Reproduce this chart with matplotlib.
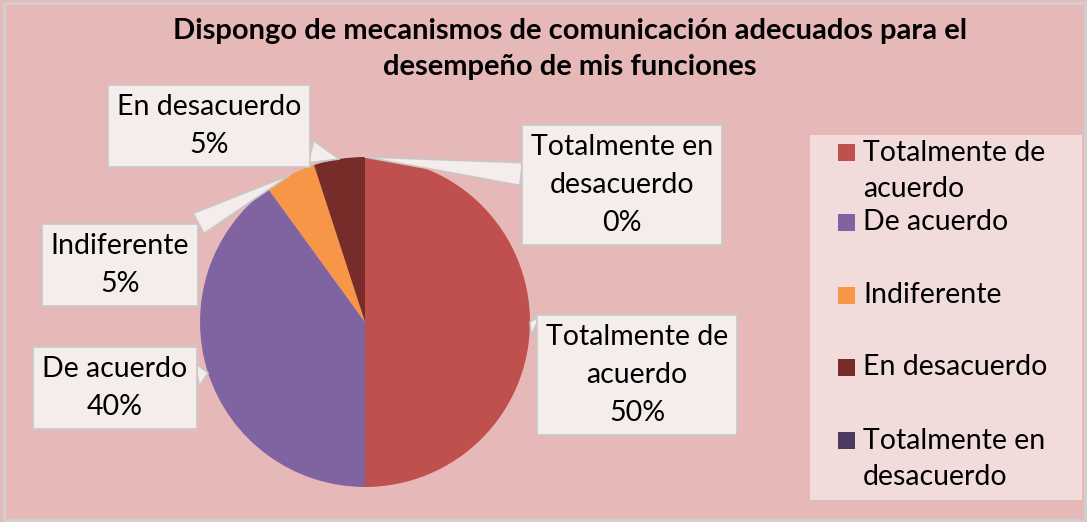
import matplotlib
matplotlib.use('Agg')
import matplotlib.pyplot as plt
import numpy as np
from matplotlib.patches import Rectangle

plt.rcParams['font.family'] = ['Lato', 'DejaVu Sans']

# datos de la encuesta
categorias = ['Totalmente de acuerdo', 'De acuerdo', 'Indiferente',
              'En desacuerdo', 'Totalmente en desacuerdo']
porcentajes = [50, 40, 5, 5, 0]
etiquetas = ['Totalmente de\nacuerdo\n50%', 'De acuerdo\n40%', 'Indiferente\n5%',
             'En desacuerdo\n5%', 'Totalmente en\ndesacuerdo\n0%']
leyenda = ['Totalmente de\nacuerdo', 'De acuerdo', 'Indiferente',
           'En desacuerdo', 'Totalmente en\ndesacuerdo']
colores = ['#C0504D', '#8064A2', '#F79646', '#772C2A', '#4D3B62']
titulo = 'Dispongo de mecanismos de comunicación adecuados para el\ndesempeño de mis funciones'

W, H = 1087, 522
fig = plt.figure(figsize=(W / 100, H / 100), dpi=100)
fig.patch.set_facecolor('#E6B9B8')
fig.patches.append(Rectangle((0.004, 0.004), 0.994, 0.99, transform=fig.transFigure,
                             fill=False, ec='#D0D0D0', lw=2))

def fx(px):
    return px / W

def fy(py):
    return 1 - py / H

# titulo
fig.text(fx(570), fy(49), titulo, ha='center', va='center', fontsize=21,
         fontweight='bold', linespacing=1.5)

# pastel
cx, cy, r = 365, 322, 165
ax = fig.add_axes([fx(cx - r), fy(cy + r), 2 * r / W, 2 * r / H])
ax.set_facecolor('none')
wedges, _ = ax.pie(porcentajes, colors=colores, startangle=90, counterclock=False,
                   radius=1)
ax.set_xlim(-1, 1)
ax.set_ylim(-1, 1)
ax.set_aspect('equal')
ax.axis('off')

# posiciones de los cuadros (pixeles)
pos_cuadros = [(637, 375), (115, 388), (120, 265), (209, 126), (622, 185)]

for w, txt, (px, py) in zip(wedges, etiquetas, pos_cuadros):
    ang = np.deg2rad((w.theta1 + w.theta2) / 2)
    xa, ya = np.cos(ang), np.sin(ang)
    tx, ty = (px - cx) / r, (cy - py) / r
    ax.annotate(txt, xy=(xa, ya), xytext=(tx, ty), ha='center', va='center',
                fontsize=20.5, linespacing=1.56, annotation_clip=False,
                bbox=dict(boxstyle='square,pad=0.32', fc='#F5ECEC', ec='#C8C8C8', lw=1.2),
                arrowprops=dict(arrowstyle='wedge,tail_width=0.8,shrink_factor=0.5',
                                fc='#F5ECEC', ec='#C8C8C8', lw=1.2,
                                shrinkA=0, shrinkB=0))

# leyenda
fig.patches.append(Rectangle((fx(810), fy(500)), fx(1082) - fx(810), fy(135) - fy(500),
                             transform=fig.transFigure, fc='#F2DCDB', ec='none'))
y_leyenda = [171, 222, 295, 367, 459]
for lab, col, py in zip(leyenda, colores, y_leyenda):
    off = 19 if '\n' in lab else 0
    fig.patches.append(Rectangle((fx(838), fy(py - off + 9)), 17 / W, 17 / H,
                                 transform=fig.transFigure, fc=col, ec='none'))
    fig.text(fx(863), fy(py), lab, ha='left', va='center', fontsize=20.5,
             linespacing=1.5)

fig.savefig('out.png', dpi=100, facecolor=fig.get_facecolor())
